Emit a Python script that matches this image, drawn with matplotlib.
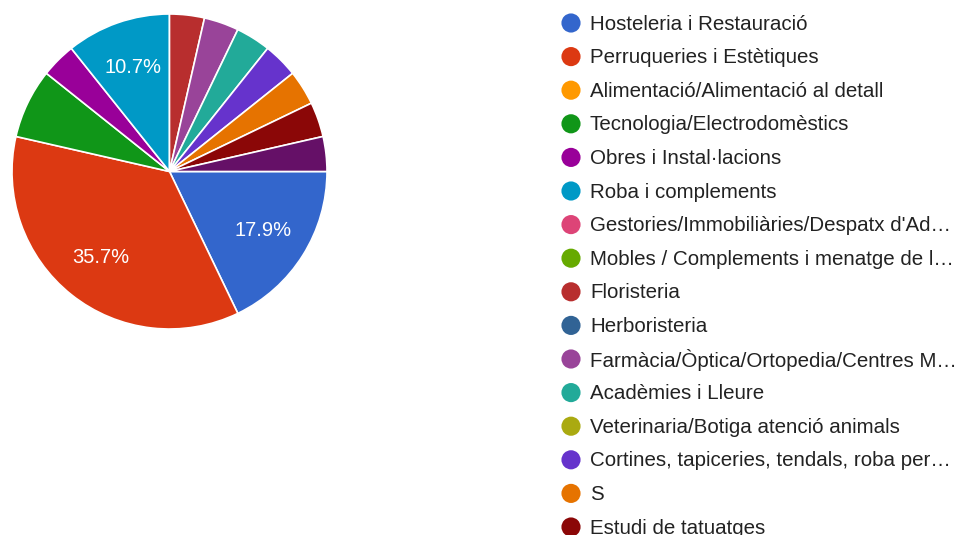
import matplotlib.pyplot as plt

plt.rcParams['font.family'] = ['Liberation Sans', 'DejaVu Sans']

# responses per category (28 answers in total)
categories = [
    'Hosteleria i Restauració',
    'Perruqueries i Estètiques',
    'Alimentació/Alimentació al detall',
    'Tecnologia/Electrodomèstics',
    'Obres i Instal·lacions',
    'Roba i complements',
    "Gestories/Immobiliàries/Despatx d'Ad…",
    'Mobles / Complements i menatge de l…',
    'Floristeria',
    'Herboristeria',
    'Farmàcia/Òptica/Ortopedia/Centres M…',
    'Acadèmies i Lleure',
    'Veterinaria/Botiga atenció animals',
    'Cortines, tapiceries, tendals, roba per…',
    'S',
    'Estudi de tatuatges',
    '',  # 17th entry, scrolled out of the legend
]
counts = [5, 10, 0, 2, 1, 3, 0, 0, 1, 0, 1, 1, 0, 1, 1, 1, 1]
colors = ['#3366cc', '#dc3912', '#ff9900', '#109618', '#990099', '#0099c6',
          '#dd4477', '#66aa00', '#b82e2e', '#316395', '#994499', '#22aa99',
          '#aaaa11', '#6633cc', '#e67300', '#8b0707', '#651067']

fig = plt.figure(figsize=(9.71, 5.35), dpi=100)

# pie (zero-count categories are left out of the pie but kept in the legend)
vals = [c for c in counts if c > 0]
cols = [col for c, col in zip(counts, colors) if c > 0]

ax = fig.add_axes([12 / 971, 206 / 535, 315 / 971, 315 / 535])
wedges, texts, autotexts = ax.pie(
    vals, colors=cols, startangle=0, counterclock=False, radius=1,
    autopct=lambda p: '%.1f%%' % p if p >= 10 else '',
    pctdistance=0.70,
    wedgeprops=dict(edgecolor='white', linewidth=1.2),
    textprops=dict(color='white', fontsize=14.5))
ax.set_xlim(-1, 1)
ax.set_ylim(-1, 1)
ax.set_aspect('equal')

# legend, drawn in pixel coordinates
lax = fig.add_axes([0, 0, 1, 1])
lax.set_xlim(0, 971)
lax.set_ylim(535, 0)
lax.axis('off')
y0 = 23
dy = 33.6
for i, (name, col) in enumerate(zip(categories[:16], colors[:16])):
    y = y0 + i * dy
    lax.scatter([571], [y], s=190, color=col, edgecolors='none')
    lax.text(590, y + 1, name, fontsize=14.8, color='#222222', va='center', ha='left')

fig.savefig('out.png', dpi=100)
